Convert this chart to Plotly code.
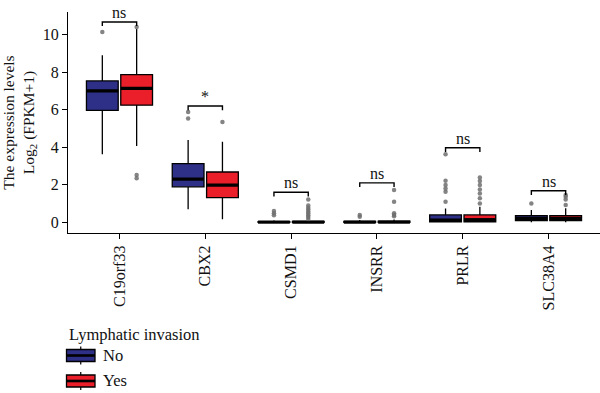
import plotly.graph_objects as go

# ---------------- data ----------------
genes = ["C19orf33", "CBX2", "CSMD1", "INSRR", "PRLR", "SLC38A4"]
groups = ["No", "Yes"]

no_q1 = [5.96, 1.89, 0.00, 0.00, 0.03, 0.09]
no_med = [7.00, 2.30, 0.01, 0.01, 0.12, 0.20]
no_q3 = [7.53, 3.13, 0.04, 0.05, 0.39, 0.35]
no_lo = [3.63, 0.69, 0.00, 0.00, 0.00, 0.00]
no_hi = [8.90, 4.38, 0.10, 0.12, 0.74, 0.65]
no_out = [[10.14], [5.53, 5.88], [0.38, 0.48, 0.60], [0.30, 0.39],
          [1.10, 1.63, 1.80, 1.98, 2.21, 3.63], [1.00]]

yes_q1 = [6.24, 1.31, 0.00, 0.00, 0.03, 0.09]
yes_med = [7.13, 1.98, 0.01, 0.01, 0.14, 0.20]
yes_q3 = [7.87, 2.68, 0.05, 0.06, 0.39, 0.35]
yes_lo = [4.07, 0.16, 0.00, 0.00, 0.00, 0.00]
yes_hi = [10.30, 4.29, 0.12, 0.15, 0.83, 0.75]
yes_out = [[10.40, 2.52, 2.34], [5.34],
           [0.18, 0.28, 0.38, 0.48, 0.58, 0.68, 0.78, 0.90, 1.22],
           [0.32, 0.40, 0.48, 1.10, 1.72],
           [1.00, 1.28, 1.54, 1.75, 1.98, 2.20, 2.39],
           [0.92, 1.22, 1.36, 1.45]]

sig_y = [10.67, 6.19, 1.60, 2.10, 3.97, 1.68]
sig_label = ["ns", "*", "ns", "ns", "ns", "ns"]

y_ticks = [0, 2, 4, 6, 8, 10]

# ---------------- style ----------------
col_no = "#2E2F86"
col_yes = "#EB1F2A"
FONT = "Liberation Serif"
TXT = "#111111"
W, H = 600, 393
ML, MR, MT, MB = 68, 0, 12, 160
DODGE = 0.2
BW = 0.37

def px2x(px):
    return (px - ML) / (W - ML - MR)

def px2y(py):
    return (H - MB - py) / (H - MT - MB)

fig = go.Figure()

series = [
    (col_no, -DODGE, no_q1, no_med, no_q3, no_lo, no_hi, no_out),
    (col_yes, DODGE, yes_q1, yes_med, yes_q3, yes_lo, yes_hi, yes_out),
]

for name, (col, off, q1, med, q3, lo, hi, outs) in zip(groups, series):
    xs = [i + off for i in range(len(genes))]
    fig.add_trace(go.Box(
        name=name, x=xs, q1=q1, median=med, q3=q3,
        lowerfence=lo, upperfence=hi, width=BW,
        fillcolor=col, line=dict(color="black", width=1.3),
        boxpoints=False, whiskerwidth=0, showlegend=False,
        hoverinfo="skip",
    ))
    # thick median lines
    mx, my = [], []
    for x, m in zip(xs, med):
        mx += [x - BW / 2, x + BW / 2, None]
        my += [m, m, None]
    fig.add_trace(go.Scatter(x=mx, y=my, mode="lines",
                             line=dict(color="black", width=3.2),
                             showlegend=False, hoverinfo="skip"))
    # outliers
    ox, oy = [], []
    for x, vals in zip(xs, outs):
        ox += [x] * len(vals)
        oy += vals
    fig.add_trace(go.Scatter(x=ox, y=oy, mode="markers",
                             marker=dict(color="rgba(110,110,110,0.85)", size=4.5),
                             showlegend=False, hoverinfo="skip"))

# significance brackets
LEG = 0.22
bx, by = [], []
for i, yv in enumerate(sig_y):
    bx += [i - DODGE, i - DODGE, i + DODGE, i + DODGE, None]
    by += [yv - LEG, yv, yv, yv - LEG, None]
fig.add_trace(go.Scatter(x=bx, y=by, mode="lines",
                         line=dict(color="black", width=1.4),
                         showlegend=False, hoverinfo="skip"))
for i, (yv, lab) in enumerate(zip(sig_y, sig_label)):
    fig.add_annotation(x=i, y=yv, text=lab, showarrow=False,
                       yanchor="bottom", yshift=-1,
                       font=dict(family=FONT, size=16, color=TXT))

# manual legend
fig.add_annotation(x=px2x(67), y=px2y(334), xref="paper", yref="paper",
                   text="Lymphatic invasion", showarrow=False,
                   xanchor="left", yanchor="middle",
                   font=dict(family=FONT, size=16.5, color=TXT))
for name, col, cy in [("No", col_no, 355.5), ("Yes", col_yes, 381)]:
    x0, x1 = 66.5, 95
    cx = (x0 + x1) / 2
    fig.add_shape(type="line", xref="paper", yref="paper",
                  x0=px2x(cx), x1=px2x(cx), y0=px2y(cy - 9), y1=px2y(cy + 9),
                  line=dict(color="black", width=1.2))
    fig.add_shape(type="rect", xref="paper", yref="paper",
                  x0=px2x(x0), x1=px2x(x1), y0=px2y(cy - 6), y1=px2y(cy + 6),
                  fillcolor=col, line=dict(color="black", width=1.3))
    fig.add_shape(type="line", xref="paper", yref="paper",
                  x0=px2x(x0), x1=px2x(x1), y0=px2y(cy), y1=px2y(cy),
                  line=dict(color="black", width=2.6))
    fig.add_annotation(x=px2x(101), y=px2y(cy), xref="paper", yref="paper",
                       text=name, showarrow=False, xanchor="left",
                       yanchor="middle",
                       font=dict(family=FONT, size=16.5, color=TXT))

fig.update_layout(
    width=W, height=H,
    margin=dict(l=ML, r=MR, t=MT, b=MB, autoexpand=False),
    paper_bgcolor="white", plot_bgcolor="white",
    font=dict(family=FONT, size=16, color=TXT),
    boxmode="overlay",
    showlegend=False,
)
fig.update_xaxes(
    range=[-0.6, 5.6], tickmode="array",
    tickvals=list(range(len(genes))), ticktext=genes,
    tickangle=-90, showline=True, linecolor="black", linewidth=1.3,
    ticks="outside", ticklen=5, tickwidth=1.3, tickcolor="black",
    showgrid=False, zeroline=False, automargin=False,
    tickfont=dict(family=FONT, size=16, color=TXT),
)
fig.update_yaxes(
    range=[-0.57, 11.2], tickmode="array", tickvals=y_ticks,
    showline=True, linecolor="black", linewidth=1.3,
    ticks="outside", ticklen=5, tickwidth=1.3, tickcolor="black",
    showgrid=False, zeroline=False, automargin=False,
    tickfont=dict(family=FONT, size=16, color=TXT),
    title=dict(text="The expression levels<br>Log<sub>2</sub> (FPKM+1)",
               font=dict(family=FONT, size=15.5, color=TXT),
               standoff=4),
)

fig.write_html("out.html", config={"displayModeBar": False},
               post_script="document.body.style.margin='0';document.body.style.overflow='hidden';")
